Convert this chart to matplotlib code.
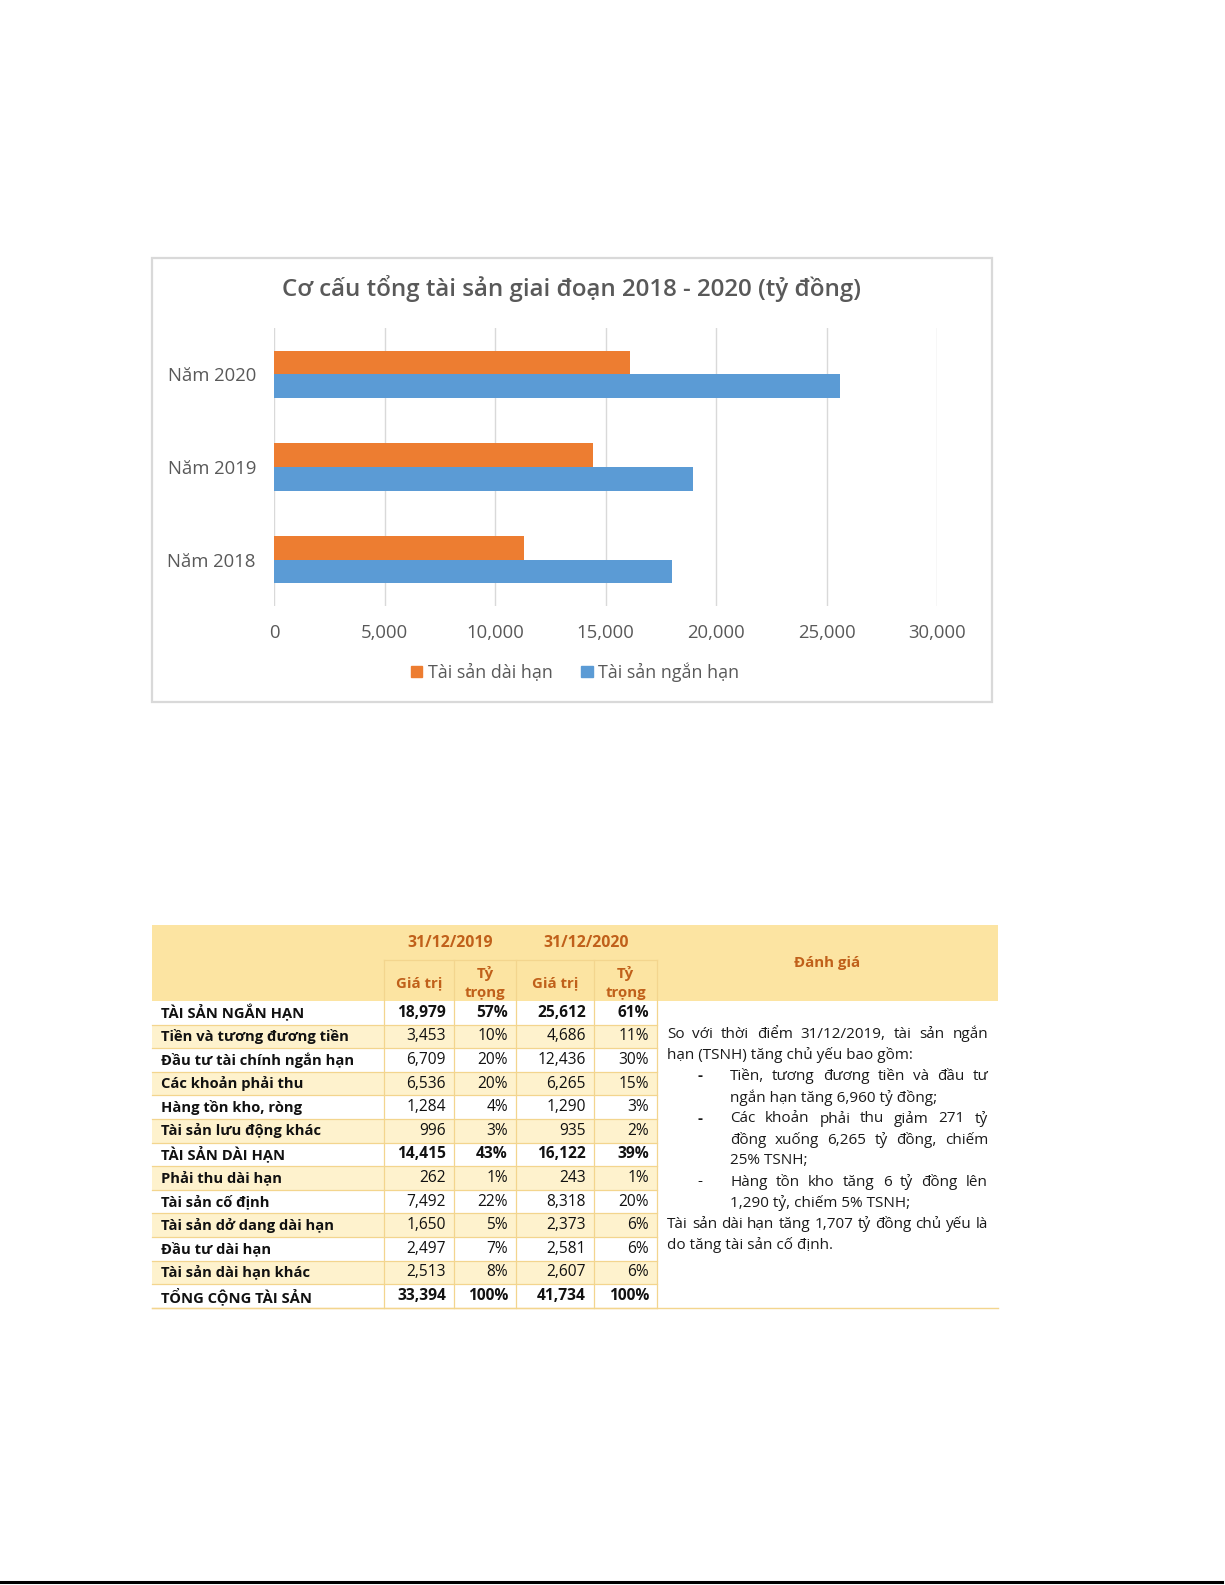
import matplotlib
matplotlib.use("Agg")
import matplotlib.pyplot as plt
from matplotlib.patches import Rectangle, Patch

FONT = ['Open Sans', 'DejaVu Sans']
plt.rcParams['font.family'] = FONT

# ---------------- data ----------------
years = ['Năm 2018', 'Năm 2019', 'Năm 2020']
long_term = [11300, 14415, 16122]     # Tài sản dài hạn
short_term = [18020, 18979, 25612]    # Tài sản ngắn hạn
series_names = ['Tài sản dài hạn', 'Tài sản ngắn hạn']
x_ticks = [0, 5000, 10000, 15000, 20000, 25000, 30000]
chart_title = 'Cơ cấu tổng tài sản giai đoạn 2018 - 2020 (tỷ đồng)'

row_labels = ['TÀI SẢN NGẮN HẠN', 'Tiền và tương đương tiền', 'Đầu tư tài chính ngắn hạn',
              'Các khoản phải thu', 'Hàng tồn kho, ròng', 'Tài sản lưu động khác',
              'TÀI SẢN DÀI HẠN', 'Phải thu dài hạn', 'Tài sản cố định',
              'Tài sản dở dang dài hạn', 'Đầu tư dài hạn', 'Tài sản dài hạn khác',
              'TỔNG CỘNG TÀI SẢN']
val_2019 = [18979, 3453, 6709, 6536, 1284, 996, 14415, 262, 7492, 1650, 2497, 2513, 33394]
pct_2019 = [57, 10, 20, 20, 4, 3, 43, 1, 22, 5, 7, 8, 100]
val_2020 = [25612, 4686, 12436, 6265, 1290, 935, 16122, 243, 8318, 2373, 2581, 2607, 41734]
pct_2020 = [61, 11, 30, 15, 3, 2, 39, 1, 20, 6, 6, 6, 100]
bold_rows = [0, 6, 12]
header_dates = ['31/12/2019', '31/12/2020']
sub_headers = ['Giá trị', 'Tỷ\ntrọng']
eval_header = 'Đánh giá'
eval_lines = [
    # (text, justified, indent)
    ('So với thời điểm 31/12/2019, tài sản ngắn', True, 0),
    ('hạn (TSNH) tăng chủ yếu bao gồm:', False, 0),
    ('Tiền, tương đương tiền và đầu tư', True, 1),
    ('ngắn hạn tăng 6,960 tỷ đồng;', False, 1),
    ('Các khoản phải thu giảm 271 tỷ', True, 1),
    ('đồng xuống 6,265 tỷ đồng, chiếm', True, 1),
    ('25% TSNH;', False, 1),
    ('Hàng tồn kho tăng 6 tỷ đồng lên', True, 1),
    ('1,290 tỷ, chiếm 5% TSNH;', False, 1),
    ('Tài sản dài hạn tăng 1,707 tỷ đồng chủ yếu là', True, 0),
    ('do tăng tài sản cố định.', False, 0),
]
bullet_lines = [2, 4, 7]

ORANGE = '#ED7D31'
BLUE = '#5B9BD5'
GRAY = '#595959'
HDR = '#FCE4A2'
SHADE = '#FEF2CD'
LINE = '#F3D58E'
HDR_TXT = '#C0601A'

W, H = 1225, 1585
fig = plt.figure(figsize=(W / 100, H / 100), dpi=100)

# page axes in pixel coordinates (layout only)
pg = fig.add_axes([0, 0, 1, 1], zorder=0)
pg.set_xlim(0, W)
pg.set_ylim(H, 0)
pg.axis('off')

# ---------------- chart ----------------
pg.add_patch(Rectangle((152, 258), 840, 444, fc='white', ec='#D9D9D9', lw=1.6))

ax = fig.add_axes([274 / W, 1 - 606 / H, 663 / W, 278 / H], zorder=2)
ax.patch.set_alpha(0)
pos = list(range(len(years)))
bh = 0.257
ax.barh([p + bh / 2 for p in pos], long_term, height=bh, color=ORANGE, label=series_names[0])
ax.barh([p - bh / 2 for p in pos], short_term, height=bh, color=BLUE, label=series_names[1])
ax.set_xlim(0, 30000)
ax.set_ylim(-0.5, 2.5)
ax.set_xticks(x_ticks)
ax.set_xticklabels([f'{v:,}' for v in x_ticks])
ax.set_yticks(pos)
ax.set_yticklabels(years)
ax.tick_params(axis='both', length=0, colors=GRAY, labelsize=13.3)
ax.tick_params(axis='y', pad=13)
ax.tick_params(axis='x', pad=13)
ax.grid(axis='x', color='#D9D9D9', lw=1)
ax.set_axisbelow(True)
for s in ax.spines.values():
    s.set_visible(False)

fig.text(571 / W, 1 - 289 / H, chart_title, ha='center', va='center',
         fontsize=17.4, color=GRAY, fontweight='semibold')

fig.legend(handles=[Patch(color=ORANGE, label=series_names[0]),
                    Patch(color=BLUE, label=series_names[1])],
           loc='center', bbox_to_anchor=(575 / W, 1 - 672 / H), ncol=2, frameon=False,
           handlelength=0.65, handleheight=0.65, handletextpad=0.3, columnspacing=1.6,
           fontsize=12.8, labelcolor=GRAY)

# ---------------- table ----------------
TL, TR = 152, 998
col_x = [384, 454, 516, 594, 657]
hdr_top, sub_top, body_top = 925, 960, 1001
rh = 23.6
nrows = len(row_labels)
body_bot = body_top + nrows * rh
LFS = 10.6
NFS = 11.2

pg.add_patch(Rectangle((TL, hdr_top), TR - TL, body_top - hdr_top, fc=HDR, ec='none'))
for i in range(nrows):
    y0 = body_top + i * rh
    if i % 2 == 1:
        pg.add_patch(Rectangle((TL, y0), col_x[-1] - TL, rh, fc=SHADE, ec='none'))
    pg.plot([TL, col_x[-1]], [y0 + rh, y0 + rh], color=LINE, lw=0.9)
# vertical lines
for cx in col_x:
    pg.plot([cx, cx], [sub_top, body_bot], color=LINE, lw=0.9)
pg.plot([col_x[0], col_x[-1]], [sub_top, sub_top], color=LINE, lw=0.9)
pg.plot([TL, TR], [body_bot, body_bot], color=LINE, lw=1.0)

# header texts
for k, d in enumerate(header_dates):
    cx = (col_x[2 * k] + col_x[2 * k + 2]) / 2
    pg.text(cx, 943, d, ha='center', va='center', fontsize=11.4, color=HDR_TXT, fontweight='bold')
    for j, sh in enumerate(sub_headers):
        sx = (col_x[2 * k + j] + col_x[2 * k + j + 1]) / 2
        pg.text(sx, 983, sh, ha='center', va='center', fontsize=10.8, color=HDR_TXT,
                fontweight='bold', linespacing=1.45)
pg.text((col_x[-1] + TR) / 2, 963, eval_header, ha='center', va='center', fontsize=10.8,
        color=HDR_TXT, fontweight='bold')

# body texts
for i in range(nrows):
    yc = body_top + i * rh + rh / 2
    b = 'bold' if i in bold_rows else 'normal'
    pg.text(161, yc, row_labels[i], ha='left', va='center', fontsize=LFS, color='#111111',
            fontweight='bold')
    vals = [f'{val_2019[i]:,}', f'{pct_2019[i]}%', f'{val_2020[i]:,}', f'{pct_2020[i]}%']
    for j, v in enumerate(vals):
        pg.text(col_x[j + 1] - 8, yc, v, ha='right', va='center', fontsize=NFS,
                color='#111111', fontweight=b)

# evaluation paragraph (justified)
renderer = fig.canvas.get_renderer()
ys = [1034, 1055, 1076, 1098, 1119, 1140, 1161, 1182, 1203, 1224, 1245]
PFS = 11.0
for (txt, just, ind), y in zip(eval_lines, ys):
    x0 = 730 if ind else 667
    x1 = 988
    words = txt.split(' ')
    if not just:
        pg.text(x0, y, txt, ha='left', va='center', fontsize=PFS, color='#1a1a1a')
        continue
    ts = [pg.text(0, y, w, ha='left', va='center', fontsize=PFS, color='#1a1a1a') for w in words]
    widths = [t.get_window_extent(renderer=renderer).width for t in ts]
    gap = (x1 - x0 - sum(widths)) / max(len(words) - 1, 1)
    x = x0
    for t, w in zip(ts, widths):
        t.set_x(x)
        x += w + gap
for idx in bullet_lines:
    pg.text(700, ys[idx], '-', ha='center', va='center', fontsize=PFS, color='#1a1a1a',
            fontweight='bold' if idx != 7 else 'normal')

# page bottom rule
pg.plot([0, 1222], [1582, 1582], color='black', lw=2.2)

fig.savefig('out.png', dpi=100)
